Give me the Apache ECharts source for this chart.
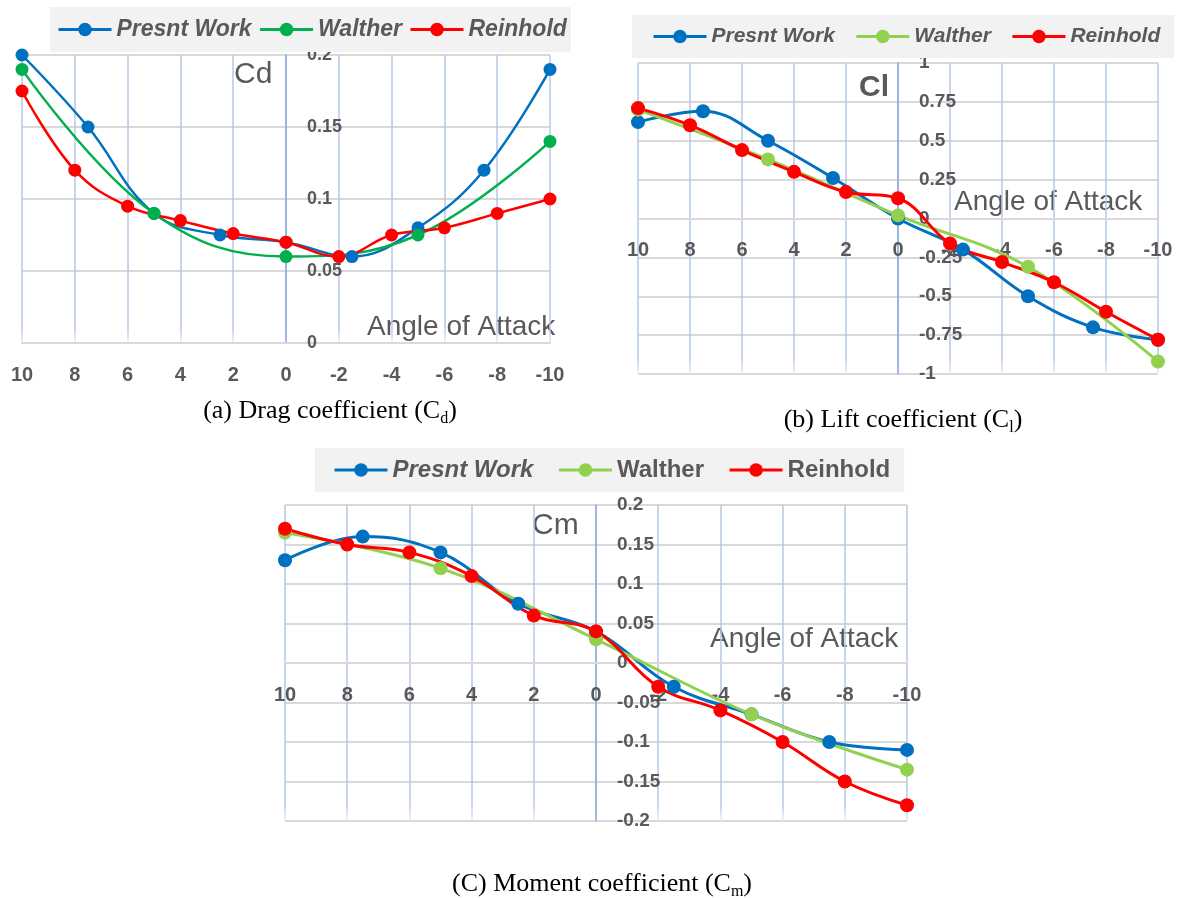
<!DOCTYPE html>
<html>
<head>
<meta charset="utf-8">
<script src="https://cdn.jsdelivr.net/npm/echarts@6/dist/echarts.min.js"></script>
<style>
  html, body { margin: 0; padding: 0; background: #ffffff; }
  #chart { width: 1177px; height: 898px; }
</style>
</head>
<body>
<div id="chart"></div>
<script>
// Angle of attack (degrees) at which each data set was sampled
const presentAngles  = [10, 7.5, 5, 2.5, 0, -2.5, -5, -7.5, -10];
const waltherAngles  = [10, 5, 0, -5, -10];
const reinholdAngles = [10, 8, 6, 4, 2, 0, -2, -4, -6, -8, -10];

// Drag coefficient
const cdPresent  = [0.2, 0.15, 0.09, 0.075, 0.07, 0.06, 0.08, 0.12, 0.19];
const cdWalther  = [0.19, 0.09, 0.06, 0.075, 0.14];
const cdReinhold = [0.175, 0.12, 0.095, 0.085, 0.076, 0.07, 0.06, 0.075, 0.08, 0.09, 0.1];

// Lift coefficient
const clPresent  = [0.62, 0.69, 0.5, 0.26, 0, -0.2, -0.5, -0.7, -0.78];
const clWalther  = [0.7, 0.38, 0.02, -0.31, -0.92];
const clReinhold = [0.71, 0.6, 0.44, 0.3, 0.17, 0.13, -0.16, -0.28, -0.41, -0.6, -0.78];

// Moment coefficient
const cmPresent  = [0.13, 0.16, 0.14, 0.075, 0.04, -0.03, -0.065, -0.1, -0.11];
const cmWalther  = [0.165, 0.12, 0.03, -0.065, -0.135];
const cmReinhold = [0.17, 0.15, 0.14, 0.11, 0.06, 0.04, -0.03, -0.06, -0.1, -0.15, -0.18];

// Legend entries
const seriesLabels = ['Presnt Work', 'Walther', 'Reinhold'];

// Axis ranges and tick steps
const angleRange = { min: -10, max: 10, interval: 2 };
const cdRange = { min: 0, max: 0.2, interval: 0.05 };
const clRange = { min: -1, max: 1, interval: 0.25 };
const cmRange = { min: -0.2, max: 0.2, interval: 0.05 };

const BLUE = '#0070c0';
const GREEN_DARK = '#00b050';
const GREEN_LIGHT = '#92d050';
const RED = '#ff0000';
const TEXT_GREY = '#595959';
const SANS = 'Liberation Sans';
const SERIF = 'Liberation Serif';

// Plot rectangles of the three panels
const grids = [
  { left: 22, top: 55, width: 528, height: 288 },
  { left: 638, top: 63, width: 520, height: 311 },
  { left: 285, top: 505, width: 622, height: 316 }
];

const pair = (xs, ys) => xs.map((x, i) => [x, ys[i]]);

// Vertical grid lines fade out just above the bottom edge of the plot
function fadingGridColor() {
  return new echarts.graphic.LinearGradient(0, 0, 0, 1, [
    { offset: 0, color: '#b4c7e7' },
    { offset: 0.94, color: '#b4c7e7' },
    { offset: 1, color: '#eef3fa' }
  ]);
}

// Each axis is drawn through the other axis' zero value, so shift it in from the grid edge.
function xAxisFor(gridIndex, yRange) {
  const g = grids[gridIndex];
  const zeroFromBottom = g.height * (0 - yRange.min) / (yRange.max - yRange.min);
  return {
    type: 'value', gridIndex, inverse: true, position: 'bottom',
    min: angleRange.min, max: angleRange.max, interval: angleRange.interval,
    offset: -zeroFromBottom,
    axisLine: { show: true, onZero: false, lineStyle: { color: '#d9d9d9', width: 2 } },
    axisTick: { show: false },
    axisLabel: { color: TEXT_GREY, fontFamily: SANS, fontWeight: 'bold', fontSize: 20, margin: 22 },
    splitLine: { show: true, lineStyle: { color: fadingGridColor(), width: 1.5 } }
  };
}

function yAxisFor(gridIndex, range, labelSize) {
  const g = grids[gridIndex];
  // x runs from max on the left to min on the right (inverse axis)
  const zeroFromLeft = g.width * (angleRange.max - 0) / (angleRange.max - angleRange.min);
  return {
    type: 'value', gridIndex, position: 'left',
    min: range.min, max: range.max, interval: range.interval,
    offset: -zeroFromLeft,
    axisLine: { show: true, onZero: false, lineStyle: { color: '#8faadc', width: 1.5 } },
    axisTick: { show: false },
    axisLabel: { inside: true, margin: 21, color: TEXT_GREY, fontFamily: SANS, fontWeight: 'bold', fontSize: labelSize },
    splitLine: { show: true, lineStyle: { color: '#d9d9d9', width: 2 } }
  };
}

function lineSeries(tag, label, idx, points, color, width, size) {
  return {
    name: tag + ' · ' + label,
    type: 'line', xAxisIndex: idx, yAxisIndex: idx,
    data: points, smooth: 0.4,
    symbol: 'circle', symbolSize: size,
    itemStyle: { color },
    lineStyle: { color, width },
    emphasis: { disabled: true }
  };
}

function legendFor(tag, pos, fontSize, italicAll) {
  return {
    left: pos.left, top: pos.top,
    orient: 'horizontal',
    backgroundColor: '#f2f2f2',
    padding: pos.padding,
    itemGap: pos.gap,
    itemWidth: 53, itemHeight: 17,
    lineStyle: { width: 3 },
    formatter: (n) => n.split(' · ')[1],
    textStyle: { color: TEXT_GREY, fontFamily: SANS, fontWeight: 'bold', fontSize, fontStyle: 'italic' },
    data: seriesLabels.map((l, i) => ({
      name: tag + ' · ' + l,
      textStyle: { fontStyle: (italicAll || i === 0) ? 'italic' : 'normal' }
    }))
  };
}

function caption(x, y, main, sub) {
  return {
    type: 'text', x, y, silent: true,
    style: {
      text: '{n|' + main + '}{s|' + sub + '}{n|)}',
      align: 'center', verticalAlign: 'middle',
      rich: {
        n: { fontFamily: SERIF, fontSize: 26, fill: '#000000' },
        s: { fontFamily: SERIF, fontSize: 16, fill: '#000000', padding: [15, 0, 0, 0] }
      }
    }
  };
}

function label(x, y, text, size, weight) {
  return {
    type: 'text', x, y, silent: true,
    style: { text, fill: TEXT_GREY, fontFamily: SANS, fontSize: size, fontWeight: weight || 'normal',
             align: 'left', verticalAlign: 'middle' }
  };
}

const chart = echarts.init(document.getElementById('chart'), null, { renderer: 'canvas' });

chart.setOption({
  animation: false,
  backgroundColor: '#ffffff',
  grid: grids,
  xAxis: [xAxisFor(0, cdRange), xAxisFor(1, clRange), xAxisFor(2, cmRange)],
  yAxis: [yAxisFor(0, cdRange, 18), yAxisFor(1, clRange, 19), yAxisFor(2, cmRange, 19)],
  legend: [
    legendFor('Cd', { left: 50, top: 7, padding: [11, 4, 11, 7], gap: 7 }, 23, true),
    legendFor('Cl', { left: 632, top: 15, padding: [11, 14, 11, 20], gap: 20 }, 21, true),
    legendFor('Cm', { left: 315, top: 448, padding: [10, 14, 10, 18], gap: 24 }, 24, false)
  ],
  series: [
    lineSeries('Cd', seriesLabels[0], 0, pair(presentAngles, cdPresent), BLUE, 2.5, 13),
    lineSeries('Cd', seriesLabels[1], 0, pair(waltherAngles, cdWalther), GREEN_DARK, 2.5, 13),
    lineSeries('Cd', seriesLabels[2], 0, pair(reinholdAngles, cdReinhold), RED, 2.5, 13),
    lineSeries('Cl', seriesLabels[0], 1, pair(presentAngles, clPresent), BLUE, 3, 14),
    lineSeries('Cl', seriesLabels[1], 1, pair(waltherAngles, clWalther), GREEN_LIGHT, 3, 14),
    lineSeries('Cl', seriesLabels[2], 1, pair(reinholdAngles, clReinhold), RED, 3, 14),
    lineSeries('Cm', seriesLabels[0], 2, pair(presentAngles, cmPresent), BLUE, 3, 14),
    lineSeries('Cm', seriesLabels[1], 2, pair(waltherAngles, cmWalther), GREEN_LIGHT, 3, 14),
    lineSeries('Cm', seriesLabels[2], 2, pair(reinholdAngles, cmReinhold), RED, 3, 14)
  ],
  graphic: [
    label(234, 75, 'Cd', 30),
    label(859, 88, 'Cl', 30, 'bold'),
    label(532, 526, 'Cm', 30),
    label(367, 327, 'Angle of Attack', 28),
    label(954, 202, 'Angle of Attack', 28),
    label(710, 639, 'Angle of Attack', 28),
    caption(330, 411, '(a) Drag coefficient (C', 'd'),
    caption(903, 420, '(b) Lift coefficient (C', 'l'),
    caption(602, 884, '(C) Moment coefficient (C', 'm')
  ]
});
</script>
</body>
</html>
